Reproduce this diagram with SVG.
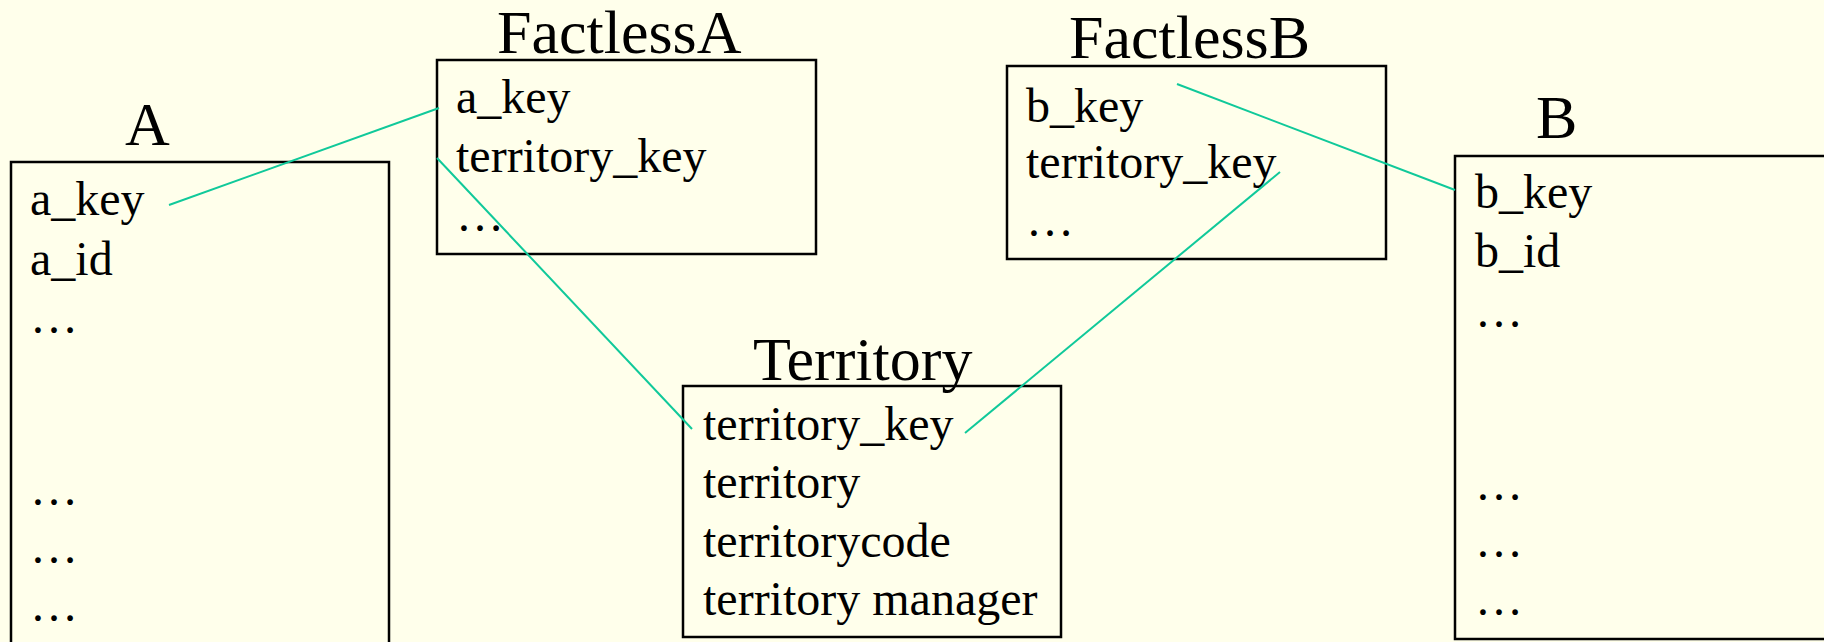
<svg xmlns="http://www.w3.org/2000/svg" width="1824" height="642" viewBox="0 0 1824 642">
  <style>
    .box { fill: none; stroke: #000; stroke-width: 2.5; }
    .title { font-family: "Liberation Serif", "Times New Roman", serif; font-size: 62px; fill: #000; }
    .row { font-family: "Liberation Serif", "Times New Roman", serif; font-size: 48px; fill: #000; }
    .link { stroke: #10C99A; stroke-width: 2; fill: none; }
  </style>
  <rect width="1824" height="642" fill="#FFFFEB"/>

  <g id="table-a">
    <rect class="box" x="11" y="162" width="378" height="520"/>
    <text class="title" x="125" y="145">A</text>
    <text class="row" x="30" y="215">a_key</text>
    <text class="row" x="30" y="275">a_id</text>
    <text class="row" x="30" y="333">…</text>
    <text class="row" x="30" y="505">…</text>
    <text class="row" x="30" y="563">…</text>
    <text class="row" x="30" y="621">…</text>
  </g>

  <g id="table-factless-a">
    <rect class="box" x="437" y="60" width="379" height="194"/>
    <text class="title" x="497" y="53">FactlessA</text>
    <text class="row" x="456" y="113">a_key</text>
    <text class="row" x="456" y="172">territory_key</text>
    <text class="row" x="456" y="231">…</text>
  </g>

  <g id="table-factless-b">
    <rect class="box" x="1007" y="66" width="379" height="193"/>
    <text class="title" x="1069" y="58">FactlessB</text>
    <text class="row" x="1026" y="122">b_key</text>
    <text class="row" x="1026" y="178">territory_key</text>
    <text class="row" x="1026" y="236">…</text>
  </g>

  <g id="table-territory">
    <rect class="box" x="683" y="386" width="378" height="251"/>
    <text class="title" x="753" y="380">Territory</text>
    <text class="row" x="703" y="440">territory_key</text>
    <text class="row" x="703" y="498">territory</text>
    <text class="row" x="703" y="557">territorycode</text>
    <text class="row" x="703" y="615">territory manager</text>
  </g>

  <g id="table-b">
    <rect class="box" x="1455" y="156" width="500" height="483"/>
    <text class="title" x="1536" y="138">B</text>
    <text class="row" x="1475" y="208">b_key</text>
    <text class="row" x="1475" y="267">b_id</text>
    <text class="row" x="1475" y="327">…</text>
    <text class="row" x="1475" y="500">…</text>
    <text class="row" x="1475" y="557">…</text>
    <text class="row" x="1475" y="615">…</text>
  </g>

  <g id="connectors">
    <line class="link" x1="169" y1="205" x2="439" y2="108"/>
    <line class="link" x1="437" y1="158" x2="692" y2="429"/>
    <line class="link" x1="1177" y1="84" x2="1455" y2="190"/>
    <line class="link" x1="1280" y1="172" x2="965" y2="433"/>
  </g>
</svg>
